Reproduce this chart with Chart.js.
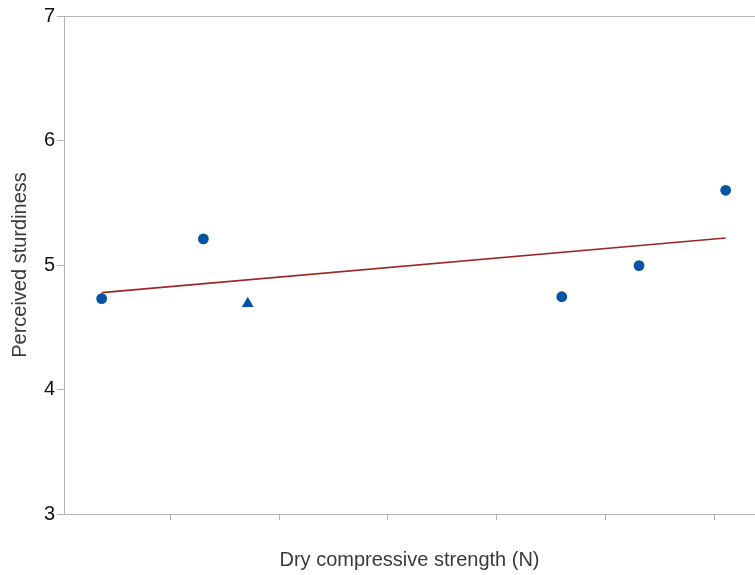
<!DOCTYPE html>
<html>
<head>
<meta charset="utf-8">
<script src="https://cdn.jsdelivr.net/npm/chart.js@4/dist/chart.umd.min.js"></script>
<style>
  html, body { margin: 0; padding: 0; background: #ffffff; overflow: hidden; }
  #wrap { width: 755px; height: 575px; }
</style>
</head>
<body>
<div id="wrap"><canvas id="c" width="755" height="575"></canvas></div>
<script>
// Dry compressive strength (N) vs perceived sturdiness
const xTicks = [10, 20, 30, 40, 50, 60];
const yTicks = [3, 4, 5, 6, 7];

// samples shown as circles
const circleStrength = [3.73, 13.06, 45.94, 53.03, 60.98];
const circleSturdiness = [4.73, 5.21, 4.745, 4.995, 5.60];

// sample shown as a triangle
const triangleStrength = [17.13];
const triangleSturdiness = [4.69];

// linear trend line end points
const trendStrength = [3.73, 60.98];
const trendSturdiness = [4.778, 5.217];

const toPoints = (xs, ys) => xs.map((x, i) => ({ x: x, y: ys[i] }));

const axisGrey = '#b4b4b4';
const fontFamily = '"Liberation Sans", Arial, sans-serif';

new Chart(document.getElementById('c'), {
  type: 'scatter',
  data: {
    datasets: [
      {
        label: 'Circles',
        data: toPoints(circleStrength, circleSturdiness),
        pointStyle: 'circle',
        pointRadius: 5.4,
        pointHoverRadius: 5.4,
        pointBackgroundColor: '#0753a3',
        pointBorderWidth: 0,
        borderWidth: 0
      },
      {
        label: 'Triangle',
        data: toPoints(triangleStrength, triangleSturdiness),
        pointStyle: 'triangle',
        pointRadius: 6.8,
        pointHoverRadius: 6.8,
        pointBackgroundColor: '#0753a3',
        pointBorderWidth: 0,
        borderWidth: 0
      },
      {
        label: 'Trend',
        data: toPoints(trendStrength, trendSturdiness),
        showLine: true,
        borderColor: '#9c2626',
        borderWidth: 1.6,
        pointRadius: 0,
        pointHoverRadius: 0,
        fill: false
      }
    ]
  },
  options: {
    responsive: false,
    animation: false,
    devicePixelRatio: 1,
    layout: { autoPadding: false, padding: { left: 0, right: 0, top: 0, bottom: 0 } },
    plugins: {
      legend: { display: false },
      tooltip: { enabled: false }
    },
    scales: {
      x: {
        type: 'linear',
        position: 'bottom',
        min: 0.275,
        max: 63.67,
        afterBuildTicks: (s) => { s.ticks = xTicks.map(v => ({ value: v })); },
        afterFit: (s) => { s.height = 61; },
        ticks: { display: false },
        grid: {
          display: true,
          drawOnChartArea: false,
          drawTicks: true,
          tickLength: 6,
          color: axisGrey,
          lineWidth: 1
        },
        border: { display: true, color: axisGrey, width: 1 },
        title: {
          display: true,
          text: 'Dry compressive strength (N)',
          color: '#3a3a3a',
          font: { family: fontFamily, size: 20 },
          padding: { top: 3, bottom: 3 }
        }
      },
      top: {
        type: 'linear',
        position: 'top',
        min: 0,
        max: 1,
        afterFit: (s) => { s.height = 16; },
        ticks: { display: false },
        grid: { display: false, drawTicks: false },
        border: { display: true, color: axisGrey, width: 1 }
      },
      y: {
        type: 'linear',
        position: 'left',
        min: 3,
        max: 7,
        afterBuildTicks: (s) => { s.ticks = yTicks.map(v => ({ value: v })); },
        afterFit: (s) => { s.width = 64; },
        ticks: {
          color: '#111111',
          font: { family: fontFamily, size: 20 },
          padding: 2
        },
        grid: {
          display: true,
          drawOnChartArea: false,
          drawTicks: true,
          tickLength: 7,
          color: axisGrey,
          lineWidth: 1
        },
        border: { display: true, color: axisGrey, width: 1 },
        title: {
          display: true,
          text: 'Perceived sturdiness',
          color: '#3a3a3a',
          font: { family: fontFamily, size: 20 },
          padding: { top: 8, bottom: 3 }
        }
      }
    }
  }
});
</script>
</body>
</html>
